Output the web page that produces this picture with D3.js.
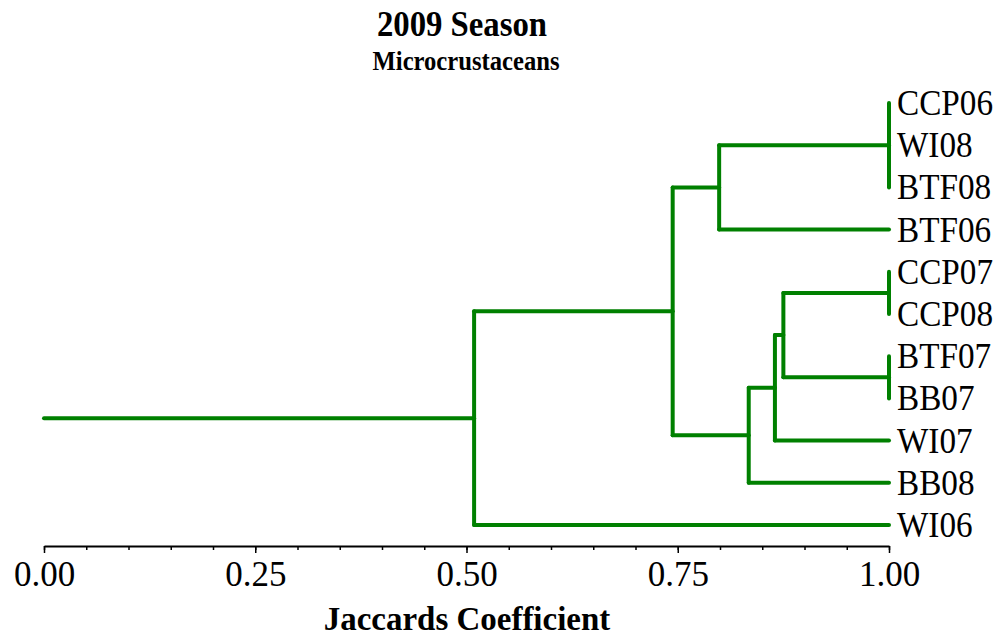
<!DOCTYPE html>
<html>
<head>
<meta charset="utf-8">
<script src="https://cdn.jsdelivr.net/npm/d3@7"></script>
<style>
  body { margin: 0; background: #fff; }
  svg { display: block; font-family: "Liberation Serif", "Times New Roman", serif; }
</style>
</head>
<body>
<div id="chart"></div>
<script>
// leaves, top to bottom
const leaves = ["CCP06", "WI08", "BTF08", "BTF06", "CCP07", "CCP08", "BTF07", "BB07", "WI07", "BB08", "WI06"];

// clusters: id, children, Jaccard coefficient where they join
const clusterIds = ["A", "B", "C", "D", "E", "F", "G", "H", "I"];
const clusterChildren = [
    ["CCP06", "WI08", "BTF08"],
    ["CCP07", "CCP08"],
    ["BTF07", "BB07"],
    ["A", "BTF06"],
    ["B", "C"],
    ["E", "WI07"],
    ["F", "BB08"],
    ["D", "G"],
    ["H", "WI06"]
];
const clusterHeights = [1.0, 1.0, 1.0, 0.799, 0.875, 0.865, 0.834, 0.744, 0.509];

const majorTicks = [0, 0.25, 0.5, 0.75, 1.0];
const minorTicks = d3.range(0, 1.0001, 0.05);

const W = 1000, H = 639;
const green = "#008000";

const svg = d3.select("#chart").append("svg")
    .attr("width", W)
    .attr("height", H);

const x = d3.scaleLinear().domain([0, 1]).range([44, 889]);
const yLeaf = d3.scalePoint().domain(leaves).range([103, 525]);

// build tree
const nodes = {};
leaves.forEach(l => nodes[l] = { name: l, height: 1.0 });
clusterIds.forEach((id, i) => {
    nodes[id] = { name: id, height: clusterHeights[i], children: clusterChildren[i].map(c => nodes[c]) };
});
const root = d3.hierarchy(nodes["I"]);

// y of internal nodes = middle of first and last child
root.eachAfter(d => {
    if (!d.children) d.py = yLeaf(d.data.name);
    else d.py = (d.children[0].py + d.children[d.children.length - 1].py) / 2;
    d.px = x(d.data.height);
});

const links = svg.append("g")
    .attr("fill", "none")
    .attr("stroke", green)
    .attr("stroke-width", 4)
    .attr("stroke-linecap", "round");

// root stub from 0
links.append("line")
    .attr("x1", x(0)).attr("x2", root.px)
    .attr("y1", root.py).attr("y2", root.py);

root.descendants().filter(d => d.children).forEach(d => {
    const ys = d.children.map(c => c.py);
    links.append("line")
        .attr("x1", d.px).attr("x2", d.px)
        .attr("y1", d3.min(ys)).attr("y2", d3.max(ys));
    d.children.forEach(c => {
        if (c.px === d.px) return;
        links.append("line")
            .attr("x1", d.px).attr("x2", c.px)
            .attr("y1", c.py).attr("y2", c.py);
    });
});

// leaf labels (a bit narrow, like the original)
svg.append("g").selectAll("text")
    .data(root.leaves())
    .enter().append("text")
    .attr("transform", d => `translate(897,${d.py}) scale(0.95,1)`)
    .attr("dy", "0.34em")
    .style("font-size", "35px")
    .text(d => d.data.name);

// axis
const axisY = 546;
svg.append("g")
    .attr("transform", `translate(0,${axisY})`)
    .call(d3.axisBottom(x).tickValues(minorTicks).tickSize(4).tickFormat(""))
    .call(g => g.select(".domain").remove())
    .selectAll("line").attr("stroke", "#000").attr("stroke-width", 1.5);

const ax = svg.append("g")
    .attr("transform", `translate(0,${axisY})`)
    .call(d3.axisBottom(x).tickValues(majorTicks).tickSize(7).tickSizeOuter(0).tickPadding(8).tickFormat(d3.format(".2f")));
ax.select(".domain").attr("stroke", "#000").attr("stroke-width", 2);
ax.selectAll("line").attr("stroke", "#000").attr("stroke-width", 1.5);
ax.selectAll("text")
    .style("font-family", "'Liberation Serif', 'Times New Roman', serif")
    .style("font-size", "35px")
    .attr("fill", "#000");

// titles
function title(txt, cx, cy, size, sx) {
    svg.append("text")
        .attr("transform", `translate(${cx},${cy}) scale(${sx},1)`)
        .attr("text-anchor", "middle")
        .style("font-size", size + "px").style("font-weight", "bold")
        .text(txt);
}
title("2009 Season", 462, 36, 36, 0.91);
title("Microcrustaceans", 466, 70, 28, 0.88);
title("Jaccards Coefficient", 467, 630, 34, 0.97);
</script>
</body>
</html>
